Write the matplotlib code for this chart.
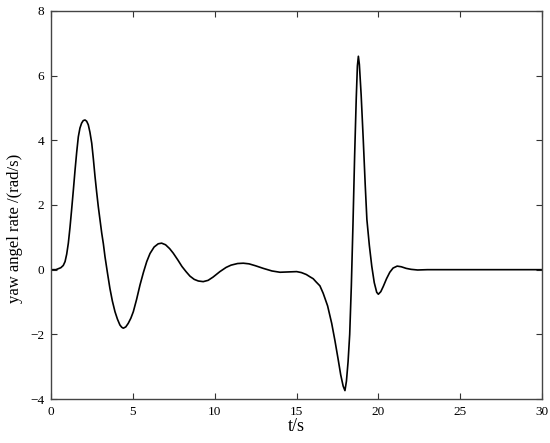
import matplotlib.pyplot as plt
import numpy as np

plt.rcParams['font.family'] = ['Liberation Serif', 'DejaVu Serif']

t = [0, 0.3, 0.45, 0.6, 0.75, 0.86, 0.96, 1.06, 1.16, 1.26, 1.37, 1.47, 1.57,
     1.67, 1.77, 1.87, 1.97, 2.08, 2.18, 2.28, 2.38, 2.49, 2.59, 2.69, 2.79,
     2.89, 3.0, 3.1, 3.2, 3.3, 3.45, 3.6, 3.75, 3.91, 4.06, 4.21, 4.32, 4.42,
     4.57, 4.72, 4.88, 5.03, 5.23, 5.44, 5.65, 5.85, 6.05, 6.3, 6.55, 6.76,
     7.0, 7.25, 7.47, 7.75, 8.0, 8.25, 8.49, 8.75, 9.0, 9.3, 9.6, 9.9, 10.32,
     10.7, 11.0, 11.4, 11.75, 12.1, 12.5, 12.97, 13.5, 13.99, 14.5, 15.01,
     15.3, 15.6, 15.82, 16.02, 16.2, 16.43, 16.63, 16.9, 17.15, 17.35, 17.55,
     17.7, 17.85, 17.96, 18.05, 18.15, 18.25, 18.35, 18.45, 18.55, 18.65,
     18.72, 18.78, 18.84, 18.95, 19.08, 19.2, 19.3, 19.45, 19.6, 19.75, 19.9,
     20.0, 20.15, 20.3, 20.5, 20.7, 20.9, 21.15, 21.4, 21.7, 22.0, 22.4, 23.0,
     30.0]
yaw = [0, 0, 0.03, 0.06, 0.13, 0.25, 0.48, 0.82, 1.3, 1.85, 2.48, 3.08, 3.63,
       4.11, 4.38, 4.53, 4.61, 4.63, 4.59, 4.48, 4.25, 3.91, 3.42, 2.88, 2.4,
       1.95, 1.52, 1.13, 0.8, 0.4, -0.1, -0.58, -0.97, -1.3, -1.53, -1.71,
       -1.78, -1.81, -1.77, -1.66, -1.5, -1.3, -0.92, -0.47, -0.08, 0.25, 0.5,
       0.7, 0.8, 0.82, 0.77, 0.65, 0.51, 0.3, 0.1, -0.06, -0.2, -0.3, -0.35,
       -0.37, -0.33, -0.23, -0.06, 0.07, 0.14, 0.19, 0.2, 0.18, 0.12, 0.04,
       -0.04, -0.08, -0.07, -0.06, -0.09, -0.15, -0.22, -0.28, -0.38, -0.5,
       -0.73, -1.12, -1.66, -2.2, -2.79, -3.25, -3.6, -3.74, -3.45, -2.85,
       -2.0, -0.5, 1.4, 3.5, 5.3, 6.3, 6.6, 6.35, 5.4, 4.0, 2.6, 1.55, 0.75,
       0.1, -0.4, -0.7, -0.76, -0.68, -0.52, -0.28, -0.08, 0.05, 0.11, 0.09,
       0.04, 0.01, -0.01, 0, 0]

fig = plt.figure(figsize=(5.5, 4.43), dpi=100)
ax = fig.add_axes([0.0927, 0.0993, 0.8928, 0.8759])
ax.plot(t, yaw, color='black', lw=1.2)

ax.set_xlim(0, 30)
ax.set_ylim(-4, 8)
ax.set_xticks([0, 5, 10, 15, 20, 25, 30])
ax.set_yticks([-4, -2, 0, 2, 4, 6, 8])
ax.tick_params(direction='in', top=True, right=True, length=4, width=0.8,
               labelsize=9.5, colors='#333333', labelcolor='black', pad=5)
for s in ax.spines.values():
    s.set_color('#444444')
    s.set_linewidth(1.0)

ax.set_xlabel('t/s', fontsize=13, labelpad=0)
ax.set_ylabel('yaw angel rate /(rad/s)', fontsize=12)
# label sits a bit below the axes centre in the original
ax.yaxis.set_label_coords(-0.058, 0.44)

fig.savefig('out.png', dpi=100)
